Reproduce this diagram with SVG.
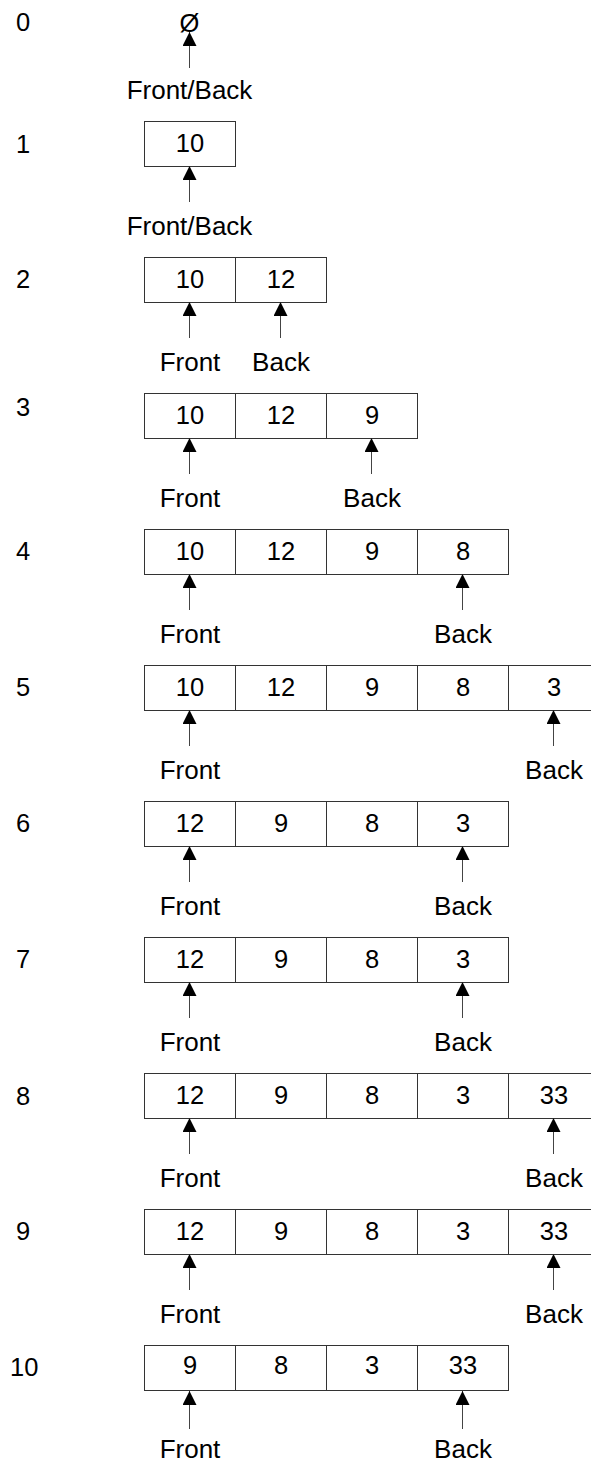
<svg xmlns="http://www.w3.org/2000/svg" width="591" height="1465" viewBox="0 0 591 1465">
<style>
text{font-family:"Liberation Sans",Arial,sans-serif;font-size:25.5px;fill:#000}
.lb{font-size:26px}
.c{text-anchor:middle}
.cell{fill:#fff;stroke:#333;stroke-width:1}
.arr{stroke:#444;stroke-width:1;fill:none;marker-end:url(#ah)}
</style>
<defs>
<marker id="ah" viewBox="0 -7 14 14" refX="14" refY="0" markerWidth="14" markerHeight="14" markerUnits="userSpaceOnUse" orient="auto">
<path d="M0,-7 L14,0 L0,7 z" fill="#000"/>
</marker>
</defs>
<rect width="591" height="1465" fill="#fff"/>

<g id="row0">
<text x="16" y="31">0</text>
<text class="c" x="189.5" y="32">Ø</text>
<text class="c lb" x="189.5" y="99">Front/Back</text>
</g>

<g id="row1">
<text x="16" y="153">1</text>
<rect class="cell" x="144.5" y="121.5" width="91" height="45"/>
<text class="c" x="190" y="152">10</text>
<text class="c lb" x="189.5" y="235">Front/Back</text>
</g>

<g id="row2">
<text x="16" y="288">2</text>
<rect class="cell" x="144.5" y="257.5" width="91" height="45"/>
<rect class="cell" x="235.5" y="257.5" width="91" height="45"/>
<text class="c" x="190" y="288">10</text>
<text class="c" x="281" y="288">12</text>
<text class="c lb" x="190" y="371">Front</text>
<text class="c lb" x="281" y="371">Back</text>
</g>

<g id="row3">
<text x="16" y="416">3</text>
<rect class="cell" x="144.5" y="393.5" width="91" height="45"/>
<rect class="cell" x="235.5" y="393.5" width="91" height="45"/>
<rect class="cell" x="326.5" y="393.5" width="91" height="45"/>
<text class="c" x="190" y="424">10</text>
<text class="c" x="281" y="424">12</text>
<text class="c" x="372" y="424">9</text>
<text class="c lb" x="190" y="507">Front</text>
<text class="c lb" x="372" y="507">Back</text>
</g>

<g id="row4">
<text x="16" y="560">4</text>
<rect class="cell" x="144.5" y="529.5" width="91" height="45"/>
<rect class="cell" x="235.5" y="529.5" width="91" height="45"/>
<rect class="cell" x="326.5" y="529.5" width="91" height="45"/>
<rect class="cell" x="417.5" y="529.5" width="91" height="45"/>
<text class="c" x="190" y="560">10</text>
<text class="c" x="281" y="560">12</text>
<text class="c" x="372" y="560">9</text>
<text class="c" x="463" y="560">8</text>
<text class="c lb" x="190" y="643">Front</text>
<text class="c lb" x="463" y="643">Back</text>
</g>

<g id="row5">
<text x="16" y="696">5</text>
<rect class="cell" x="144.5" y="665.5" width="91" height="45"/>
<rect class="cell" x="235.5" y="665.5" width="91" height="45"/>
<rect class="cell" x="326.5" y="665.5" width="91" height="45"/>
<rect class="cell" x="417.5" y="665.5" width="91" height="45"/>
<rect class="cell" x="508.5" y="665.5" width="91" height="45"/>
<text class="c" x="190" y="696">10</text>
<text class="c" x="281" y="696">12</text>
<text class="c" x="372" y="696">9</text>
<text class="c" x="463" y="696">8</text>
<text class="c" x="554" y="696">3</text>
<text class="c lb" x="190" y="779">Front</text>
<text class="c lb" x="554" y="779">Back</text>
</g>

<g id="row6">
<text x="16" y="832">6</text>
<rect class="cell" x="144.5" y="801.5" width="91" height="45"/>
<rect class="cell" x="235.5" y="801.5" width="91" height="45"/>
<rect class="cell" x="326.5" y="801.5" width="91" height="45"/>
<rect class="cell" x="417.5" y="801.5" width="91" height="45"/>
<text class="c" x="190" y="832">12</text>
<text class="c" x="281" y="832">9</text>
<text class="c" x="372" y="832">8</text>
<text class="c" x="463" y="832">3</text>
<text class="c lb" x="190" y="915">Front</text>
<text class="c lb" x="463" y="915">Back</text>
</g>

<g id="row7">
<text x="16" y="968">7</text>
<rect class="cell" x="144.5" y="937.5" width="91" height="45"/>
<rect class="cell" x="235.5" y="937.5" width="91" height="45"/>
<rect class="cell" x="326.5" y="937.5" width="91" height="45"/>
<rect class="cell" x="417.5" y="937.5" width="91" height="45"/>
<text class="c" x="190" y="968">12</text>
<text class="c" x="281" y="968">9</text>
<text class="c" x="372" y="968">8</text>
<text class="c" x="463" y="968">3</text>
<text class="c lb" x="190" y="1051">Front</text>
<text class="c lb" x="463" y="1051">Back</text>
</g>

<g id="row8">
<text x="16" y="1105">8</text>
<rect class="cell" x="144.5" y="1073.5" width="91" height="45"/>
<rect class="cell" x="235.5" y="1073.5" width="91" height="45"/>
<rect class="cell" x="326.5" y="1073.5" width="91" height="45"/>
<rect class="cell" x="417.5" y="1073.5" width="91" height="45"/>
<rect class="cell" x="508.5" y="1073.5" width="91" height="45"/>
<text class="c" x="190" y="1104">12</text>
<text class="c" x="281" y="1104">9</text>
<text class="c" x="372" y="1104">8</text>
<text class="c" x="463" y="1104">3</text>
<text class="c" x="554" y="1104">33</text>
<text class="c lb" x="190" y="1187">Front</text>
<text class="c lb" x="554" y="1187">Back</text>
</g>

<g id="row9">
<text x="16" y="1240">9</text>
<rect class="cell" x="144.5" y="1209.5" width="91" height="45"/>
<rect class="cell" x="235.5" y="1209.5" width="91" height="45"/>
<rect class="cell" x="326.5" y="1209.5" width="91" height="45"/>
<rect class="cell" x="417.5" y="1209.5" width="91" height="45"/>
<rect class="cell" x="508.5" y="1209.5" width="91" height="45"/>
<text class="c" x="190" y="1240">12</text>
<text class="c" x="281" y="1240">9</text>
<text class="c" x="372" y="1240">8</text>
<text class="c" x="463" y="1240">3</text>
<text class="c" x="554" y="1240">33</text>
<text class="c lb" x="190" y="1323">Front</text>
<text class="c lb" x="554" y="1323">Back</text>
</g>

<g id="row10">
<text x="10" y="1376">10</text>
<rect class="cell" x="144.5" y="1345.5" width="91" height="45"/>
<rect class="cell" x="235.5" y="1345.5" width="91" height="45"/>
<rect class="cell" x="326.5" y="1345.5" width="91" height="45"/>
<rect class="cell" x="417.5" y="1345.5" width="91" height="45"/>
<text class="c" x="190" y="1374">9</text>
<text class="c" x="281" y="1374">8</text>
<text class="c" x="372" y="1374">3</text>
<text class="c" x="463" y="1374">33</text>
<text class="c lb" x="190" y="1458">Front</text>
<text class="c lb" x="463" y="1458">Back</text>
</g>

<g id="connectors">
<line class="arr" x1="189.5" y1="68" x2="189.5" y2="32"/>
<line class="arr" x1="189.5" y1="202" x2="189.5" y2="166"/>
<line class="arr" x1="189.5" y1="338" x2="189.5" y2="302"/>
<line class="arr" x1="280.5" y1="338" x2="280.5" y2="302"/>
<line class="arr" x1="189.5" y1="474" x2="189.5" y2="438"/>
<line class="arr" x1="371.5" y1="474" x2="371.5" y2="438"/>
<line class="arr" x1="189.5" y1="610" x2="189.5" y2="574"/>
<line class="arr" x1="462.5" y1="610" x2="462.5" y2="574"/>
<line class="arr" x1="189.5" y1="746" x2="189.5" y2="710"/>
<line class="arr" x1="553.5" y1="746" x2="553.5" y2="710"/>
<line class="arr" x1="189.5" y1="882" x2="189.5" y2="846"/>
<line class="arr" x1="462.5" y1="882" x2="462.5" y2="846"/>
<line class="arr" x1="189.5" y1="1018" x2="189.5" y2="982"/>
<line class="arr" x1="462.5" y1="1018" x2="462.5" y2="982"/>
<line class="arr" x1="189.5" y1="1154" x2="189.5" y2="1118"/>
<line class="arr" x1="553.5" y1="1154" x2="553.5" y2="1118"/>
<line class="arr" x1="189.5" y1="1290" x2="189.5" y2="1254"/>
<line class="arr" x1="553.5" y1="1290" x2="553.5" y2="1254"/>
<line class="arr" x1="189.5" y1="1429" x2="189.5" y2="1391"/>
<line class="arr" x1="462.5" y1="1429" x2="462.5" y2="1391"/>
</g>
</svg>
